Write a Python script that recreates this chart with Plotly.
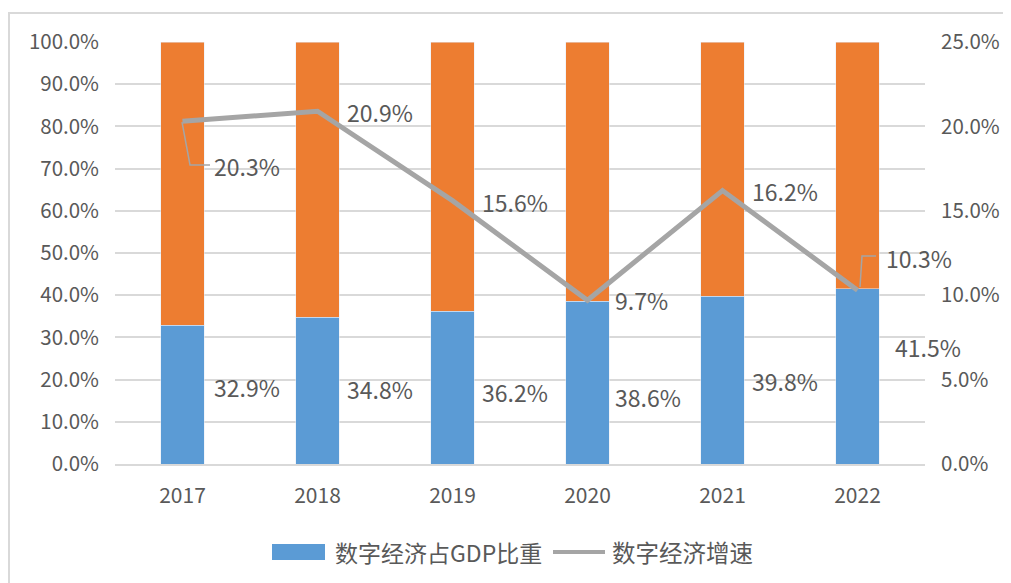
import plotly.graph_objects as go

years = ["2017", "2018", "2019", "2020", "2021", "2022"]
share = [32.9, 34.8, 36.2, 38.6, 39.8, 41.5]          # 数字经济占GDP比重 (%)
growth = [20.3, 20.9, 15.6, 9.7, 16.2, 10.3]          # 数字经济增速 (%)
rest = [round(100 - v, 1) for v in share]

BLUE = "#5B9BD5"
ORANGE = "#ED7D31"
GRAY = "#A5A5A5"
TXT = "#595959"
GRID = "#D9D9D9"
FONT = "Noto Sans CJK SC"

O = 8  # page body offset
W, H = 1011 - O, 583 - O
L, R, T, B = 115 - O, 925 - O, 42 - O, 464 - O
PW, PH = R - L, B - T
xs = list(range(len(years)))

def px2x(px):
    return (px - O - L) / PW

def py2y(py):
    return (B - (py - O)) / PH

fig = go.Figure()
fig.add_trace(go.Bar(x=xs, y=share, marker_color=BLUE, width=0.32, name="数字经济占GDP比重",
                     showlegend=False))
fig.add_trace(go.Bar(x=xs, y=rest, marker_color=ORANGE, width=0.32, showlegend=False))
fig.add_trace(go.Scatter(x=xs, y=growth, yaxis="y2", mode="lines",
                         line=dict(color=GRAY, width=5), name="数字经济增速", showlegend=False))

ann = []
g_pos = [(29, 166), (27, 112), (27, 202), (25, 300), (27, 191), (26, 258)]
for i, (v, (dx, py)) in enumerate(zip(growth, g_pos)):
    ann.append(dict(x=i + dx / 135, y=py2y(py) * 100, xref="x", yref="y",
                    text=f"{v:.1f}%", showarrow=False, xanchor="left", yanchor="middle",
                    font=dict(size=23, color=TXT, family=FONT)))
s_pos = [(29, 387), (27, 389), (27, 392), (25, 397), (27, 381), (35, 347)]
for i, (v, (dx, py)) in enumerate(zip(share, s_pos)):
    ann.append(dict(x=i + dx / 135, y=py2y(py) * 100, xref="x", yref="y",
                    text=f"{v:.1f}%", showarrow=False, xanchor="left", yanchor="middle",
                    font=dict(size=23, color=TXT, family=FONT)))

ann.append(dict(x=px2x(333), y=py2y(552), xref="paper", yref="paper", text="数字经济占GDP比重",
                showarrow=False, xanchor="left", yanchor="middle",
                font=dict(size=23, color=TXT, family=FONT)))
ann.append(dict(x=px2x(610), y=py2y(552), xref="paper", yref="paper", text="数字经济增速",
                showarrow=False, xanchor="left", yanchor="middle",
                font=dict(size=23.5, color=TXT, family=FONT)))

shapes = [
    dict(type="rect", xref="paper", yref="paper", x0=px2x(9), x1=px2x(1040), y0=py2y(13), y1=py2y(600),
         line=dict(color=GRID, width=2), fillcolor="rgba(0,0,0,0)", layer="below"),
    dict(type="rect", xref="paper", yref="paper", x0=px2x(272), x1=px2x(325), y0=py2y(560), y1=py2y(544),
         line=dict(width=0), fillcolor=BLUE),
    dict(type="line", xref="paper", yref="paper", x0=px2x(553), x1=px2x(605), y0=py2y(552), y1=py2y(552),
         line=dict(color=GRAY, width=4)),
    dict(type="path", xref="paper", yref="paper",
         path=f"M {px2x(182)} {py2y(122)} L {px2x(190)} {py2y(165)} L {px2x(210)} {py2y(165)}",
         line=dict(color=GRAY, width=1.5)),
    dict(type="path", xref="paper", yref="paper",
         path=f"M {px2x(860)} {py2y(287)} L {px2x(862)} {py2y(256)} L {px2x(876)} {py2y(256)}",
         line=dict(color=GRAY, width=1.5)),
]

fig.update_layout(
    barmode="stack",
    width=W, height=H,
    margin=dict(l=L, r=W - R, t=T, b=H - B),
    paper_bgcolor="white", plot_bgcolor="white",
    font=dict(family=FONT, color=TXT),
    xaxis=dict(range=[-0.5, 5.5], tickvals=xs, ticktext=years, showgrid=False, zeroline=False,
               showline=True, linecolor=GRID, linewidth=1.5, ticks="", ticklabelstandoff=12,
               tickfont=dict(size=21, color=TXT, family=FONT), automargin=False),
    yaxis=dict(range=[0, 100], dtick=10, tickformat=".1f", ticksuffix="%", showgrid=True,
               gridcolor=GRID, gridwidth=1.5, zeroline=False, showline=False, ticks="",
               ticklabelstandoff=15, tickfont=dict(size=20.5, color=TXT, family=FONT), automargin=False),
    yaxis2=dict(range=[0, 25], dtick=5, tickformat=".1f", ticksuffix="%", overlaying="y", side="right",
                showgrid=False, zeroline=False, showline=False, ticks="", ticklabelstandoff=15,
                tickfont=dict(size=20.5, color=TXT, family=FONT), automargin=False),
    annotations=ann,
    shapes=shapes,
    showlegend=False,
)

fig.write_html("out.html")
